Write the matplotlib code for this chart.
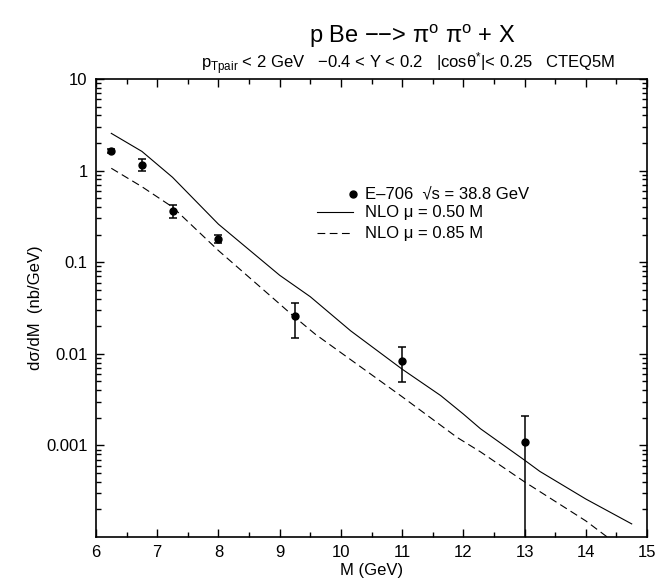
import numpy as np
import matplotlib
matplotlib.use("Agg")
import matplotlib.pyplot as plt
from matplotlib.ticker import FixedLocator, NullFormatter, LogLocator, MultipleLocator

plt.rcParams['font.family'] = ['Liberation Sans', 'DejaVu Sans']
plt.rcParams['mathtext.fontset'] = 'custom'
plt.rcParams['mathtext.rm'] = 'Liberation Sans'
plt.rcParams['mathtext.it'] = 'Liberation Sans'
plt.rcParams['mathtext.sf'] = 'Liberation Sans'

# E-706 measurement
data_m = [6.25, 6.75, 7.25, 8.0, 9.25, 11.0, 13.0]
data_y = [1.62, 1.15, 0.36, 0.18, 0.0256, 0.0084, 0.00108]
err_lo = [0.08, 0.15, 0.06, 0.018, 0.0107, 0.0035, 0.001079]
err_hi = [0.08, 0.18, 0.06, 0.016, 0.0102, 0.0035, 0.00099]

# NLO, mu = 0.50 M
nlo50_m = [6.25, 6.75, 7.25, 8.0, 9.0, 9.5, 10.16, 11.0, 11.63, 12.0, 12.28,
           13.0, 13.25, 14.0, 14.75]
nlo50_y = [2.55, 1.62, 0.845, 0.26, 0.072, 0.042, 0.0178, 0.0068, 0.0035,
           0.0022, 0.00152, 0.00069, 0.00052, 0.00026, 0.000139]

# NLO, mu = 0.85 M
nlo85_m = [6.25, 6.75, 7.25, 8.0, 9.0, 9.18, 9.58, 11.0, 11.9, 12.28, 13.0,
           14.0, 14.35]
nlo85_y = [1.06, 0.667, 0.40, 0.134, 0.035, 0.0274, 0.0164, 0.0034, 0.00122,
           0.00085, 0.0004, 0.00015, 0.0001]

ytick_vals = [0.001, 0.01, 0.1, 1, 10]
ytick_labels = ['0.001', '0.01', '0.1', '1', '10']
xtick_vals = list(range(6, 16))

fig = plt.figure(figsize=(6.69, 5.84), dpi=100)
ax = fig.add_axes([96 / 669, 1 - 537 / 584, 551 / 669, 458 / 584])

ax.plot(nlo50_m, nlo50_y, color='black', lw=0.8)
ax.plot(nlo85_m, nlo85_y, color='black', lw=0.8, dashes=(7, 4))
ax.errorbar(data_m, data_y, yerr=[err_lo, err_hi], fmt='o', color='black',
            ms=5, elinewidth=1.1, capsize=3, capthick=1.1)

ax.set_yscale('log')
ax.set_xlim(6, 15)
ax.set_ylim(1e-4, 10)

ax.yaxis.set_major_locator(FixedLocator(ytick_vals))
ax.set_yticklabels(ytick_labels)
ax.yaxis.set_minor_locator(LogLocator(base=10, subs=np.arange(2, 10)))
ax.yaxis.set_minor_formatter(NullFormatter())
ax.xaxis.set_major_locator(FixedLocator(xtick_vals))
ax.set_xticklabels([str(v) for v in xtick_vals])
ax.xaxis.set_minor_locator(MultipleLocator(0.5))

ax.tick_params(which='both', direction='in', top=True, right=True,
               labelsize=12, width=1.0)
ax.tick_params(which='major', length=6, pad=6)
ax.tick_params(which='minor', length=3.5)
for s in ax.spines.values():
    s.set_linewidth(1.2)

ax.set_xlabel('M (GeV)', fontsize=12, labelpad=2)
ax.set_ylabel('dσ/dM  (nb/GeV)', fontsize=12, labelpad=2)

# legend drawn in axes coordinates
tr = ax.transAxes
ax.plot([0.467], [0.750], 'o', color='black', ms=5, transform=tr)
ax.plot([0.401, 0.467], [0.709, 0.709], color='black', lw=0.8, transform=tr)
ax.plot([0.401, 0.467], [0.663, 0.663], color='black', lw=0.8, dashes=(7, 4),
        transform=tr)
ax.text(0.489, 0.750, 'E–706  √s = 38.8 GeV', transform=tr,
        va='center', ha='left', fontsize=12)
ax.text(0.489, 0.709, 'NLO μ = 0.50 M', transform=tr,
        va='center', ha='left', fontsize=12)
ax.text(0.489, 0.663, 'NLO μ = 0.85 M', transform=tr,
        va='center', ha='left', fontsize=12)

fig.text(412 / 669, 1 - 36 / 584, r'p Be −−> π$^{\rm o}$ π$^{\rm o}$ + X',
         ha='center', va='center', fontsize=17)
fig.text(408 / 669, 1 - 64 / 584,
         r'p$_{\rm Tpair}$ < 2 GeV   −0.4 < Y < 0.2   |cosθ$^{*}$|< 0.25   CTEQ5M',
         ha='center', va='center', fontsize=12)

fig.savefig('out.png', dpi=100)
